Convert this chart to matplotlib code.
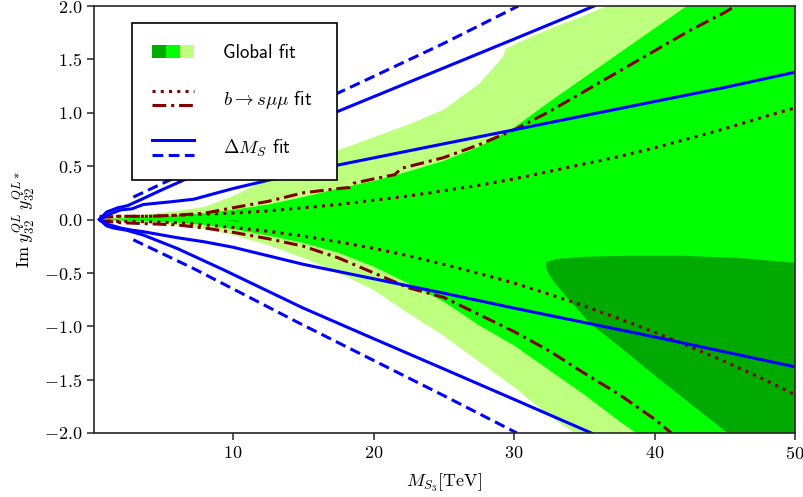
import matplotlib
matplotlib.use("Agg")
import matplotlib.pyplot as plt
from matplotlib.lines import Line2D
from matplotlib.patches import Patch
from matplotlib.legend_handler import HandlerBase, HandlerTuple

plt.rcParams['font.family'] = 'serif'
plt.rcParams['font.serif'] = ['cmr10']
plt.rcParams['mathtext.fontset'] = 'cm'
plt.rcParams['axes.formatter.use_mathtext'] = True
plt.rcParams['font.size'] = 13

# global fit bands (outer 2 sigma, inner 1 sigma)
lg_up_x = [0.2, 2, 4, 6, 8, 10, 12.5, 15, 17.5, 20, 22.5, 25, 27.5, 29.2, 29.4, 31, 33, 35, 36.6, 50]
lg_up_y = [0.0, 0.03, 0.05, 0.08, 0.12, 0.22, 0.38, 0.53, 0.65, 0.77, 0.89, 1.03, 1.27, 1.52, 1.60, 1.70, 1.81, 1.91, 2.0, 2.0]
lg_lo_x = [0.2, 2, 4, 6, 8, 10, 12.5, 15, 17.5, 20, 22.5, 25, 27.5, 30, 32.5, 34.3, 50]
lg_lo_y = [0.0, -0.02, -0.04, -0.06, -0.09, -0.145, -0.24, -0.36, -0.5, -0.66, -0.88, -1.09, -1.33, -1.57, -1.84, -2.0, -2.0]

g_up_x = [0.2, 2, 4, 6, 8, 10, 12.5, 15, 17.5, 20, 22.5, 25, 27.5, 30, 32.5, 35, 37.5, 40, 42.3, 50]
g_up_y = [0.0, 0.01, 0.02, 0.04, 0.06, 0.09, 0.14, 0.21, 0.29, 0.36, 0.45, 0.55, 0.68, 0.86, 1.10, 1.33, 1.56, 1.79, 2.0, 2.0]
g_lo_x = [0.2, 2, 4, 6, 8, 10, 12.5, 15, 17.5, 20, 22.5, 25, 27.5, 30, 32.5, 35, 37.5, 38.7, 50]
g_lo_y = [0.0, -0.01, -0.02, -0.03, -0.05, -0.09, -0.15, -0.22, -0.31, -0.44, -0.6, -0.77, -0.99, -1.18, -1.41, -1.64, -1.89, -2.0, -2.0]

# best-fit island
dg_x = [32.3, 33.0, 34.9, 38.0, 42.0, 46.0, 50.0, 50.0, 45.2, 42.5, 40.0, 37.5, 35.4, 33.7, 32.7, 32.35, 32.3]
dg_y = [-0.40, -0.37, -0.35, -0.34, -0.34, -0.36, -0.405, -2.0, -2.0, -1.72, -1.46, -1.19, -0.97, -0.72, -0.56, -0.48, -0.44]
dg2_x = [9.4, 10.2, 10.9, 10.2]
dg2_y = [-0.005, -0.008, -0.027, -0.02]

# b -> s mu mu contours
bs_x = [0.5, 2, 4, 6, 8, 10, 12.5, 15, 17.5, 20, 22.5, 25, 27.5, 30, 32.5, 35, 37.5, 40, 42.5, 45, 47.5, 50]
bs1_up = [0.03, 0.03, 0.03, 0.04, 0.05, 0.06, 0.08, 0.11, 0.14, 0.18, 0.22, 0.27, 0.32, 0.38, 0.45, 0.52, 0.59, 0.67, 0.76, 0.85, 0.95, 1.045]
bs1_lo = [-0.01, -0.02, -0.02, -0.03, -0.05, -0.075, -0.11, -0.155, -0.21, -0.27, -0.34, -0.42, -0.505, -0.595, -0.70, -0.81, -0.93, -1.055, -1.19, -1.33, -1.48, -1.64]
bs2_up_x = [0.5, 2, 4, 6, 8, 10, 12.5, 15, 17.5, 18.3, 18.6, 20, 21.5, 22, 25, 27.5, 30, 32.5, 35, 37.5, 40, 42.5, 45, 46]
bs2_up_y = [0.02, 0.03, 0.03, 0.04, 0.06, 0.11, 0.17, 0.25, 0.29, 0.30, 0.34, 0.38, 0.42, 0.48, 0.58, 0.70, 0.84, 1.01, 1.2, 1.39, 1.58, 1.77, 1.94, 2.02]
bs2_lo_x = [0.5, 2, 4, 6, 8, 10, 12.5, 15, 17.5, 20, 22.5, 25, 27.5, 30, 32.5, 35, 37.5, 40, 41.2]
bs2_lo_y = [-0.01, -0.03, -0.04, -0.05, -0.08, -0.12, -0.18, -0.25, -0.36, -0.5, -0.64, -0.73, -0.89, -1.05, -1.23, -1.44, -1.64, -1.87, -2.0]

# Delta M_s contours
dm1_up_x = [0.5, 1.2, 2.0, 2.8, 3.6, 5.5, 7.2, 10, 15, 20, 25, 30, 35, 40, 45, 50]
dm1_up_y = [0.0, 0.05, 0.09, 0.1, 0.14, 0.165, 0.19, 0.29, 0.445, 0.577, 0.709, 0.84, 0.973, 1.105, 1.237, 1.38]
dm1_lo_x = [0.5, 1.2, 2.0, 2.8, 3.6, 6, 8, 10, 15, 20, 25, 30, 35, 40, 45, 50]
dm1_lo_y = [0.0, -0.05, -0.08, -0.1, -0.114, -0.17, -0.21, -0.26, -0.42, -0.555, -0.69, -0.83, -0.965, -1.10, -1.24, -1.38]
dm2_up_x = [0.5, 1.0, 1.8, 2.5, 3.5, 4.8, 6.5, 10, 15, 20, 25, 30, 35.7]
dm2_up_y = [0.0, 0.07, 0.11, 0.13, 0.19, 0.27, 0.37, 0.6, 0.88, 1.15, 1.42, 1.69, 2.0]
dm2_lo_x = [0.5, 1.0, 1.5, 2.4, 3.6, 6, 9.3, 15, 20, 25, 30, 35.5]
dm2_lo_y = [0.0, -0.06, -0.08, -0.1, -0.145, -0.27, -0.47, -0.83, -1.116, -1.40, -1.685, -2.0]
dm_dash_up_x = [2.9, 5.5, 10, 16.9, 20, 25, 30.3]
dm_dash_up_y = [0.21, 0.37, 0.68, 1.15, 1.34, 1.65, 2.0]
dm_dash_lo_x = [2.9, 7.2, 10, 14.7, 20, 25, 30.2]
dm_dash_lo_y = [-0.19, -0.46, -0.65, -0.97, -1.32, -1.65, -2.0]

c_light = '#bfff80'
c_mid = '#00ff00'
c_dark = '#00aa00'
c_brown = '#800000'
c_blue = '#0000ff'


class HandlerStack(HandlerBase):
    # draws the lines of a tuple on top of each other
    def create_artists(self, legend, orig_handle, xdescent, ydescent,
                       width, height, fontsize, trans):
        gap = 0.75 * fontsize
        ymid = (height - ydescent) / 2
        arts = []
        n = len(orig_handle)
        for i, h in enumerate(orig_handle):
            y = ymid + gap * ((n - 1) / 2 - i)
            ln = Line2D([-xdescent, -xdescent + width], [y, y])
            ln.update_from(h)
            ln.set_transform(trans)
            arts.append(ln)
        return arts


fig = plt.figure(figsize=(8.04, 4.97), dpi=100)
ax = fig.add_axes([0.1169, 0.1288, 0.8719, 0.8591])

ax.fill(lg_up_x + lg_lo_x[::-1], lg_up_y + lg_lo_y[::-1], color=c_light, lw=0)
ax.fill(g_up_x + g_lo_x[::-1], g_up_y + g_lo_y[::-1], color=c_mid, lw=0)
ax.fill(dg_x, dg_y, color=c_dark, lw=0)
ax.fill(dg2_x, dg2_y, color=c_dark, lw=0)

lw = 2.2
dots = (0, (1, 1.7))
dashdot = (0, (4.5, 1.6, 1, 1.6))
dashed = (0, (3.5, 1.8))

l_dot, = ax.plot(bs_x, bs1_up, color=c_brown, lw=lw, ls=dots)
ax.plot(bs_x, bs1_lo, color=c_brown, lw=lw, ls=dots)
l_dd, = ax.plot(bs2_up_x, bs2_up_y, color=c_brown, lw=lw, ls=dashdot)
ax.plot(bs2_lo_x, bs2_lo_y, color=c_brown, lw=lw, ls=dashdot)

l_sol, = ax.plot(dm1_up_x, dm1_up_y, color=c_blue, lw=lw)
ax.plot(dm1_lo_x, dm1_lo_y, color=c_blue, lw=lw)
ax.plot(dm2_up_x, dm2_up_y, color=c_blue, lw=lw)
ax.plot(dm2_lo_x, dm2_lo_y, color=c_blue, lw=lw)
l_das, = ax.plot(dm_dash_up_x, dm_dash_up_y, color=c_blue, lw=lw, ls=dashed)
ax.plot(dm_dash_lo_x, dm_dash_lo_y, color=c_blue, lw=lw, ls=dashed)

ax.set_xlim(0.1, 50)
ax.set_ylim(-2, 2)
ax.set_xticks([10, 20, 30, 40, 50])
ax.set_yticks([-2.0, -1.5, -1.0, -0.5, 0.0, 0.5, 1.0, 1.5, 2.0])
ax.yaxis.set_major_formatter(matplotlib.ticker.FormatStrFormatter('$%.1f$'))
ax.xaxis.set_major_formatter(matplotlib.ticker.FormatStrFormatter('$%d$'))
ax.tick_params(direction='out', length=5, width=1.1, color='#262626', top=False, right=False)
for s in ax.spines.values():
    s.set_linewidth(1.2)
    s.set_color('#262626')

ax.set_xlabel(r'$M_{S_3}[\mathrm{TeV}]$', labelpad=7)
ax.set_ylabel(r'$\mathrm{Im}\;y_{32}^{QL}\,y_{32}^{QL*}$', labelpad=4)

green_h = (Patch(color=c_dark, lw=0), Patch(color=c_mid, lw=0), Patch(color=c_light, lw=0))
bs_h = (l_dot, l_dd)
dm_h = (l_sol, l_das)
leg = ax.legend([green_h, bs_h, dm_h],
                ['Global fit', r'$b\to s\mu\mu$ fit', r'$\Delta M_S$ fit'],
                handler_map={green_h: HandlerTuple(ndivide=None, pad=0),
                             bs_h: HandlerStack(), dm_h: HandlerStack()},
                loc='upper left', bbox_to_anchor=(0.054, 0.60, 0.293, 0.36),
                mode='expand', borderaxespad=0,
                prop={'family': 'cmss10', 'size': 13.5},
                handlelength=2.2, handletextpad=1.55, labelspacing=1.45,
                borderpad=1.1, fancybox=False, framealpha=1)
leg.get_frame().set_edgecolor('black')
leg.get_frame().set_linewidth(1.2)

fig.savefig('out.png', dpi=100)
